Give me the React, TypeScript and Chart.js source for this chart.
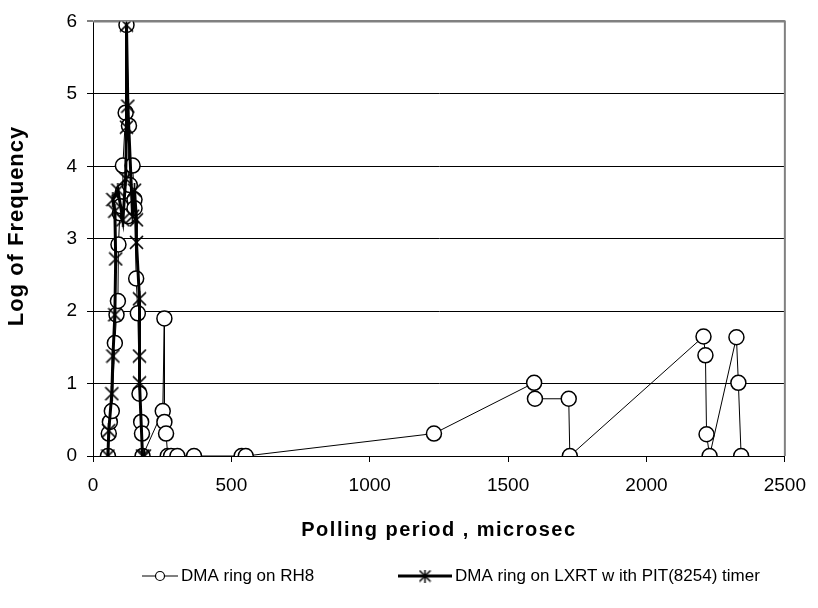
import React, { useEffect, useRef } from 'react';
import { Chart, registerables } from 'chart.js';

Chart.register(...registerables);

// ---- Data ----
const rh8X = [54, 57, 61, 68, 79, 85, 90, 92, 97, 100, 108, 108, 118, 121, 130, 126, 133, 143, 150, 150, 156, 162, 168, 174, 177, 179, 252, 258, 258, 264, 270, 282, 305, 365, 537, 552, 1232, 1594, 1597, 1719, 1723, 2206, 2213, 2217, 2228, 2325, 2332, 2342];
const rh8Y = [0, 0.31, 0.47, 0.62, 1.56, 1.95, 2.14, 2.92, 3.35, 3.45, 3.65, 4.01, 4.74, 5.95, 4.56, 3.31, 3.74, 4.01, 3.54, 3.42, 2.45, 1.97, 0.86, 0.47, 0.31, 0, 0.62, 1.9, 0.47, 0.31, 0, 0, 0, 0, 0, 0, 0.31, 1.01, 0.79, 0.79, 0, 1.65, 1.39, 0.3, 0, 1.64, 1.01, 0];

const lxrtX = [54, 57, 68, 72, 79, 82, 79, 72, 90, 108, 118, 121, 121, 126, 143, 150, 157, 157, 168, 168, 168, 179, 186];
const lxrtY = [0, 0.35, 0.86, 1.38, 1.95, 2.72, 3.38, 3.54, 3.67, 3.26, 3.83, 4.54, 5.95, 4.83, 3.31, 3.67, 3.26, 2.95, 2.17, 1.38, 1.01, 0, 0];

const xTicks = [0, 500, 1000, 1500, 2000, 2500];
const yTicks = [0, 1, 2, 3, 4, 5, 6];
const seriesNames = ['DMA ring on RH8', 'DMA ring on LXRT w ith PIT(8254) timer'];
const xTitle = 'Polling period , microsec';
const yTitle = 'Log of Frequency';

const FONT = '"Liberation Sans", Arial, Helvetica, sans-serif';

function makeStar(size: number, lw: number): HTMLCanvasElement {
  const c = document.createElement('canvas');
  c.width = size;
  c.height = size;
  const ctx = c.getContext('2d')!;
  ctx.strokeStyle = '#000';
  ctx.lineWidth = lw;
  const h = size / 2;
  const r = size / 2 - 1;
  ctx.beginPath();
  ctx.moveTo(h - r, h - r);
  ctx.lineTo(h + r, h + r);
  ctx.moveTo(h + r, h - r);
  ctx.lineTo(h - r, h + r);
  ctx.moveTo(h, 0);
  ctx.lineTo(h, size);
  ctx.stroke();
  return c;
}

export default function App() {
  const ref = useRef<HTMLCanvasElement | null>(null);

  useEffect(() => {
    document.body.style.margin = '0';
    const canvas = ref.current;
    if (!canvas) return;
    const star = makeStar(15, 1.7);
    const legendStar = makeStar(13, 1.5);

    const extras = {
      id: 'extras',
      beforeDatasetsDraw(chart: any) {
        const { ctx, chartArea } = chart;
        ctx.save();
        ctx.strokeStyle = '#808080';
        ctx.lineWidth = 2;
        ctx.beginPath();
        ctx.moveTo(chartArea.left, chartArea.top);
        ctx.lineTo(chartArea.right, chartArea.top);
        ctx.lineTo(chartArea.right, chartArea.bottom);
        ctx.stroke();
        ctx.restore();
      },
      afterDraw(chart: any) {
        const { ctx, chartArea } = chart;
        ctx.save();
        ctx.fillStyle = '#000';
        // x title
        ctx.font = `bold 20px ${FONT}`;
        (ctx as any).letterSpacing = '1.5px';
        ctx.textAlign = 'center';
        ctx.textBaseline = 'middle';
        ctx.fillText(xTitle, (chartArea.left + chartArea.right) / 2, 530);
        // y title
        ctx.save();
        ctx.translate(17, 226);
        ctx.rotate(-Math.PI / 2);
        ctx.font = `bold 22px ${FONT}`;
        (ctx as any).letterSpacing = '1px';
        ctx.fillText(yTitle, 0, 0);
        ctx.restore();
        (ctx as any).letterSpacing = '0px';

        // legend
        const ly = 576;
        ctx.font = `17px ${FONT}`;
        ctx.textAlign = 'left';
        ctx.textBaseline = 'middle';
        // item 1
        ctx.strokeStyle = '#000';
        ctx.lineWidth = 1;
        ctx.beginPath();
        ctx.moveTo(142, ly);
        ctx.lineTo(178, ly);
        ctx.stroke();
        ctx.beginPath();
        ctx.arc(160, ly, 4.5, 0, Math.PI * 2);
        ctx.fillStyle = '#fff';
        ctx.fill();
        ctx.lineWidth = 1.2;
        ctx.stroke();
        ctx.fillStyle = '#000';
        ctx.fillText(seriesNames[0], 181, ly);
        // item 2
        ctx.lineWidth = 3;
        ctx.beginPath();
        ctx.moveTo(398, ly);
        ctx.lineTo(452, ly);
        ctx.stroke();
        ctx.drawImage(legendStar, 425 - 6.5, ly - 6.5);
        ctx.fillText(seriesNames[1], 455, ly);
        ctx.restore();
      },
    };

    const chart = new Chart(canvas, {
      type: 'line',
      data: {
        datasets: [
          {
            label: seriesNames[0],
            data: rh8X.map((x, i) => ({ x, y: rh8Y[i] })),
            borderColor: '#000',
            borderWidth: 1,
            pointStyle: 'circle',
            pointRadius: 7.5,
            pointBorderWidth: 1.5,
            pointBackgroundColor: '#fff',
            pointBorderColor: '#000',
            tension: 0,
            order: 1,
          },
          {
            label: seriesNames[1],
            data: lxrtX.map((x, i) => ({ x, y: lxrtY[i] })),
            borderColor: '#000',
            borderWidth: 3,
            pointStyle: star,
            pointRadius: 7,
            tension: 0,
            order: 0,
          },
        ],
      },
      options: {
        animation: false,
        responsive: false,
        devicePixelRatio: 1,
        layout: { padding: { top: 16, right: 27, bottom: 0, left: 0 } },
        plugins: {
          legend: { display: false },
          tooltip: { enabled: false },
          title: { display: false },
        },
        scales: {
          x: {
            type: 'linear',
            min: 0,
            max: 2500,
            afterBuildTicks: (s: any) => {
              s.ticks = xTicks.map((v) => ({ value: v }));
            },
            afterFit: (s: any) => {
              s.height = 152;
            },
            grid: {
              drawOnChartArea: false,
              drawTicks: true,
              tickLength: 6,
              color: '#000',
            },
            border: { display: true, color: '#000', width: 1 },
            ticks: {
              color: '#000',
              padding: 12,
              maxRotation: 0,
              font: { family: FONT, size: 19 },
              callback: (v: any) => String(v),
            },
          },
          y: {
            type: 'linear',
            min: 0,
            max: 6,
            afterBuildTicks: (s: any) => {
              s.ticks = yTicks.map((v) => ({ value: v }));
            },
            afterFit: (s: any) => {
              s.width = 93;
            },
            grid: {
              color: (c: any) => (c.tick && c.tick.value === 6 ? '#808080' : '#000'),
              lineWidth: (c: any) => (c.tick && c.tick.value === 6 ? 2 : 1),
              tickLength: 6,
            },
            border: { display: true, color: '#000', width: 1 },
            ticks: {
              color: '#000',
              padding: 10,
              font: { family: FONT, size: 19 },
              callback: (v: any) => String(v),
            },
          },
        },
      },
      plugins: [extras],
    });

    return () => chart.destroy();
  }, []);

  return (
    <div style={{ width: 818, height: 608 }}>
      <canvas ref={ref} width={818} height={608} style={{ display: 'block' }} />
    </div>
  );
}
